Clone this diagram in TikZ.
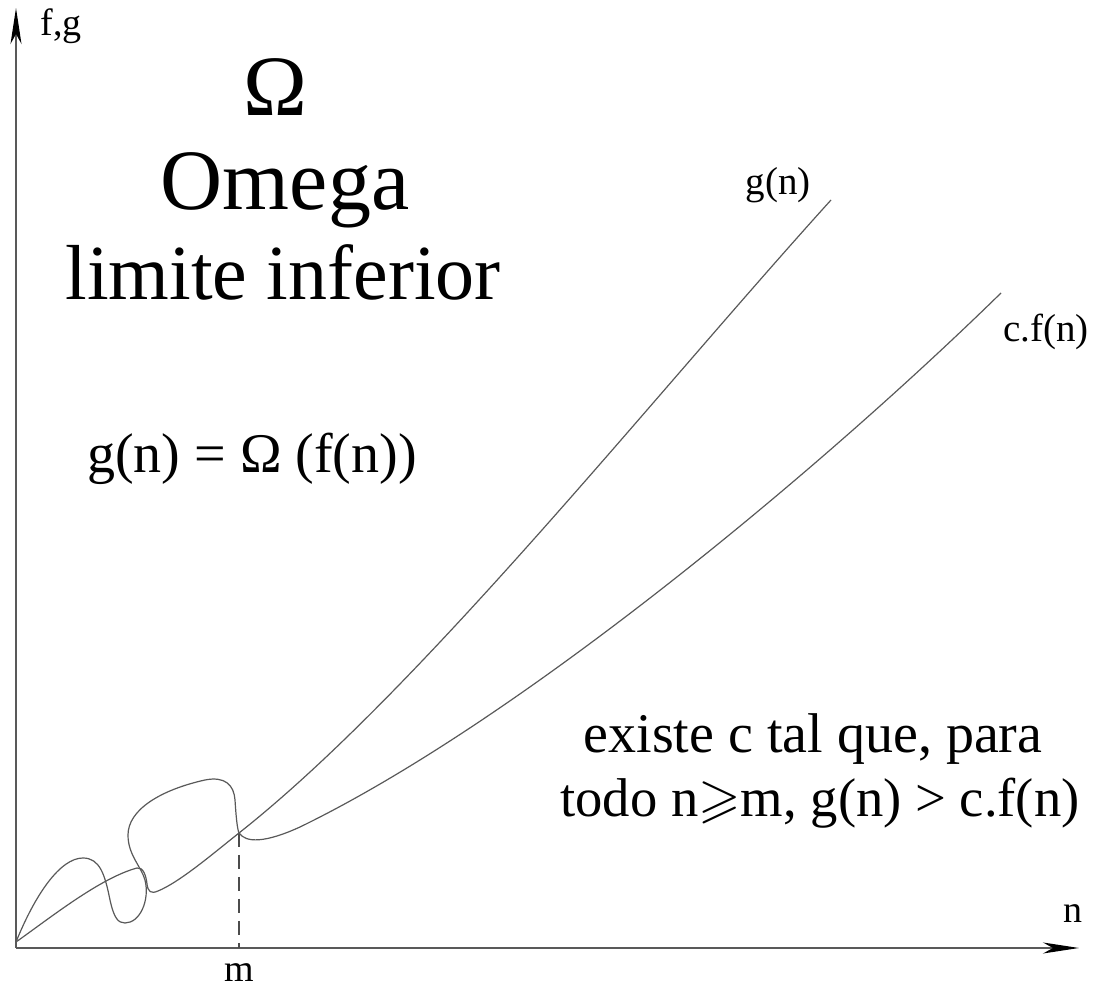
\documentclass[tikz,border=0pt]{standalone}
\usepackage{amssymb}
\usepackage{fontspec}
\setmainfont{Liberation Serif}
\usetikzlibrary{arrows.meta}
\begin{document}
\begin{tikzpicture}[x=0.5pt,y=-0.5pt,
  axisline/.style={draw=black!65, line width=0.7pt, -{Stealth[length=18pt,width=5.5pt,inset=5pt,color=black]}},
  curveline/.style={draw=black!65, line width=0.6pt},
  txt/.style={inner sep=0pt, anchor=base, text=black}]
\useasboundingbox (0,0) rectangle (1115,988);
\coordinate (O) at (16,942);
\coordinate (xstart) at (16,948);
\coordinate (xend) at (1079,948);
\coordinate (yend) at (16,8);
\coordinate (M) at (239,833);
\coordinate (Mx) at (239,948);
\coordinate (gend) at (831,200);
\coordinate (cfend) at (1001,293);
% axes
\draw[axisline] (xstart) -- (xend);
\draw[axisline] (xstart) -- (yend);
% dashed marker
\draw[black!70, line width=0.6pt, dash pattern=on 7pt off 4pt] (M) -- (Mx);
% c.f(n) curve (loopy before m)
\draw[curveline] (O)
 .. controls (35,895) and (60,858) .. (83,858)
 .. controls (100,858) and (105,875) .. (110,900)
 .. controls (114,918) and (118,923) .. (125,923)
 .. controls (140,923) and (150,900) .. (145,880)
 .. controls (141,866) and (128,855) .. (128,835)
 .. controls (128,810) and (160,790) .. (205,780)
 .. controls (225,776) and (234,785) .. (235,800)
 .. controls (236,815) and (237,828) .. (M)
 .. controls (246,843) and (265,843) .. (300,827)
 .. controls (520,720) and (820,470) .. (cfend);
% g(n) curve
\draw[curveline] (O)
 .. controls (50,918) and (100,878) .. (137,868)
 .. controls (143,867) and (146,875) .. (147,884)
 .. controls (148,892) and (151,894) .. (158,891)
 .. controls (180,882) and (215,852) .. (M)
 .. controls (420,690) and (650,400) .. (gend);
% labels
\node[txt, font=\fontsize{19}{22}\selectfont] (fg) at (61,36) {f,g};
\node[txt, font=\fontsize{19}{22}\selectfont] (nlab) at (1073,923) {n};
\node[txt, font=\fontsize{19}{22}\selectfont] (mlab) at (239,982) {m};
\node[txt, font=\fontsize{19.5}{22}\selectfont] (glab) at (778,195) {g(n)};
\node[txt, font=\fontsize{19.5}{22}\selectfont] (cflab) at (1046,342) {c.f(n)};
\node[txt, font=\fontsize{43}{48}\selectfont] (om) at (275,116) {Ω};
\node[txt, font=\fontsize{43}{48}\selectfont] (omega) at (285,210) {Omega};
\node[txt, font=\fontsize{39}{44}\selectfont] (lim) at (283,300) {limite inferior};
\node[txt, font=\fontsize{28}{32}\selectfont] (eq) at (252,473) {g(n) = Ω (f(n))};
\node[txt, font=\fontsize{28}{32}\selectfont] (ex1) at (813,753) {existe c tal que, para};
\node[txt, font=\fontsize{27.3}{32}\selectfont] (ex2) at (820,817) {todo n$\geqslant$m, g(n) > c.f(n)};
\end{tikzpicture}
\end{document}
